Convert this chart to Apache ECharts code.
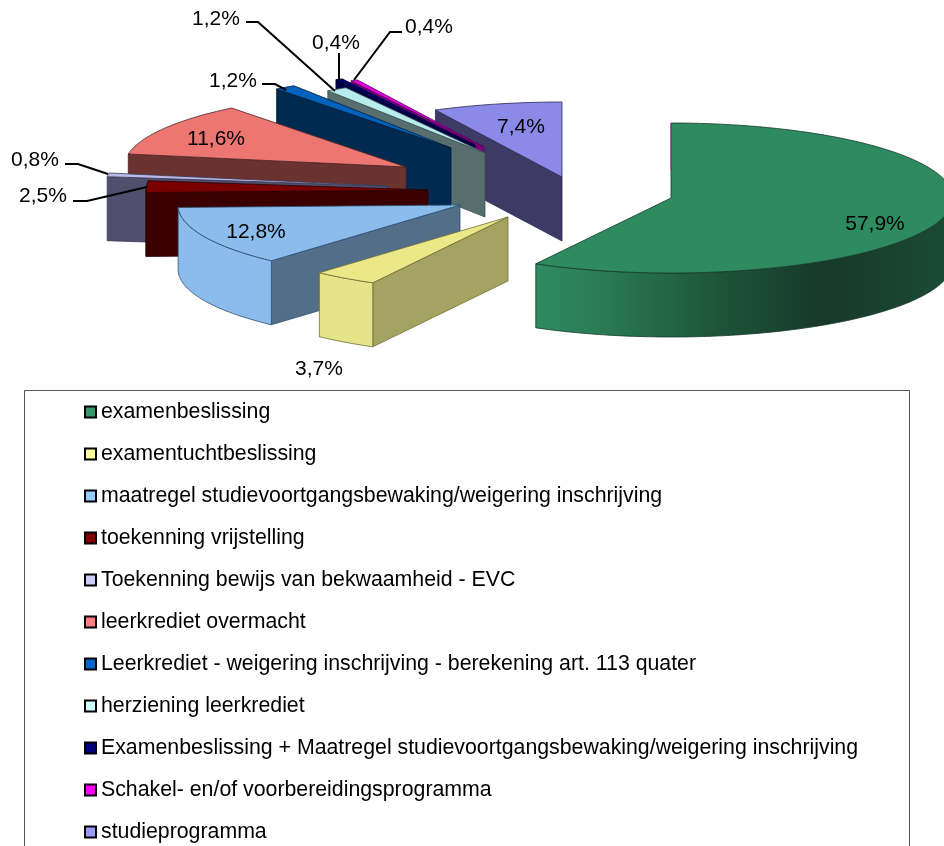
<!DOCTYPE html>
<html>
<head>
<meta charset="utf-8">
<title>Exploded pie</title>
<script src="https://cdn.jsdelivr.net/npm/echarts@6/dist/echarts.min.js"></script>
<style>
  html, body { margin: 0; padding: 0; background: #fff; }
  #chart { width: 944px; height: 846px; overflow: hidden; }
</style>
</head>
<body>
<div id="chart"></div>
<script>
// data, percentages as printed on the slices
const sliceNames = [
  'examenbeslissing',
  'examentuchtbeslissing',
  'maatregel studievoortgangsbewaking/weigering inschrijving',
  'toekenning vrijstelling',
  'Toekenning bewijs van bekwaamheid - EVC',
  'leerkrediet overmacht',
  'Leerkrediet - weigering inschrijving - berekening art. 113 quater',
  'herziening leerkrediet',
  'Examenbeslissing + Maatregel studievoortgangsbewaking/weigering inschrijving',
  'Schakel- en/of voorbereidingsprogramma',
  'studieprogramma'
]
const sliceValues = [57.9, 3.7, 12.8, 2.5, 0.8, 11.6, 1.2, 1.2, 0.4, 0.4, 7.4]

// colours
const legendColors = ['#339966', '#ffff99', '#99ccff', '#800000', '#ccccff', '#ff8080', '#0066cc', '#ccffff', '#000080', '#ff00ff', '#9999ff']
const topColors = ['#2e8b5f', '#ebe987', '#8bbcec', '#7a0000', '#b9b9e8', '#ee7672', '#0062bd', '#b8ecec', '#000066', '#e000e0', '#8c8ae8']
const wallColors = ['#1f5a3c', '#a5a362', '#526e88', '#3a0000', '#50506e', '#6b3330', '#012a50', '#566e6e', '#000044', '#7a007a', '#3d3a66']
const rimColors = ['#2e8b5f', '#e6e488', '#8bbcec', '#3a0000', '#50506e', '#6b3330', '#012a50', '#566e6e', '#000044', '#7a007a', '#3d3a66']
const edgeColors = ['#17392a', '#6f6d3a', '#2f4f70', '#2a0000', '#3a3a55', '#4a2522', '#001c38', '#3e5252', '#000033', '#5a005a', '#2a2850']

// pie layout
const centerX = 590
const centerY = 195
const radiusX = 282
const radiusY = 75
const depth = 64
// explode offset of each slice from the pie centre
const explode = [[81, 3], [-82, 22], [-130, 10], [-162, -5], [-203, -9], [-184, -28], [-139, -47], [-105, -42], [-115, -50], [-106, -48], [-28, -18]]

// percent labels and their leader lines
const labelPos = [[875, 224], [319, 369], [256, 232], [43, 196], [35, 160], [216, 139], [233, 81], [216, 19], [336, 43], [429, 27], [521, 127]]
const leaders = [null, null, null,
  [[73, 201], [87, 201], [147, 187]],
  [[65, 164], [78, 164], [108, 174]],
  null,
  [[262, 84], [275, 84], [286, 90]],
  [[246, 22], [258, 22], [335, 91]],
  [[339, 53], [339, 80]],
  [[402, 32], [390, 32], [354, 80]],
  null]

const total = sliceValues.reduce((a, b) => a + b, 0)
const startAngles = []
let running = 0
sliceValues.forEach((v) => {
  startAngles.push(running)
  running += v / total * 360
})

function pointAt(index, deg, drop) {
  const rad = deg * Math.PI / 180
  return [
    centerX + explode[index][0] + radiusX * Math.sin(rad),
    centerY + explode[index][1] - radiusY * Math.cos(rad) + drop
  ]
}

function arcPoints(index, from, to, drop) {
  const pts = []
  const n = Math.max(2, Math.ceil(Math.abs(to - from)))
  for (let i = 0; i <= n; i++) {
    pts.push(pointAt(index, from + (to - from) * i / n, drop))
  }
  return pts
}

function renderSlice(index) {
  const from = startAngles[index]
  const to = from + sliceValues[index] / total * 360
  const apex = [centerX + explode[index][0], centerY + explode[index][1]]
  const apexLow = [apex[0], apex[1] + depth]
  const children = []
  const edge = { stroke: edgeColors[index], lineWidth: 0.8, lineJoin: 'round' }

  // wall along the start edge, only seen on the left side
  if (from > 180) {
    const outer = pointAt(index, from, 0)
    const outerLow = pointAt(index, from, depth)
    children.push({
      type: 'polygon',
      shape: { points: [apex, outer, outerLow, apexLow] },
      style: { fill: wallColors[index], ...edge }
    })
  }

  // outer rim, only the front half of the ellipse
  const rimFrom = Math.max(from, 90)
  const rimTo = Math.min(to, 270)
  if (rimTo > rimFrom) {
    const rimPts = arcPoints(index, rimFrom, rimTo, 0).concat(arcPoints(index, rimTo, rimFrom, depth))
    let fill = rimColors[index]
    if (index === 0) {
      fill = new echarts.graphic.LinearGradient(537, 0, 944, 0, [
        { offset: 0, color: '#2e8b5f' },
        { offset: 0.15, color: '#2a7c55' },
        { offset: 0.4, color: '#1f5a3c' },
        { offset: 0.7, color: '#17392a' },
        { offset: 1, color: '#1a4a33' }
      ], true)
    }
    children.push({ type: 'polygon', shape: { points: rimPts }, style: { fill: fill, ...edge } })
  }

  // top face
  children.push({
    type: 'polygon',
    shape: { points: [apex].concat(arcPoints(index, from, to, 0)) },
    style: { fill: topColors[index], ...edge }
  })

  // the thin magenta seam on the big slice
  if (index === 0) {
    children.push({
      type: 'polyline',
      shape: { points: [[apex[0], apex[1] - radiusY], [apex[0], apex[1] - 28]] },
      style: { stroke: '#b0209a', lineWidth: 1, fill: null }
    })
  }
  return { type: 'group', children: children }
}

function renderLabel(params) {
  const i = params.dataIndex
  const children = []
  if (leaders[i]) {
    children.push({
      type: 'polyline',
      shape: { points: leaders[i] },
      style: { stroke: '#000', lineWidth: 2, fill: null }
    })
  }
  children.push({
    type: 'text',
    style: {
      text: sliceValues[i].toFixed(1).replace('.', ',') + '%',
      x: labelPos[i][0],
      y: labelPos[i][1],
      fill: '#000',
      fontSize: 21,
      fontFamily: '"Liberation Sans", Arial, sans-serif',
      align: 'center',
      verticalAlign: 'middle'
    }
  })
  return { type: 'group', children: children }
}

// painter's order: big slice, then from the back of the left side to the front
const drawOrder = [0, 10, 9, 8, 7, 6, 5, 4, 3, 2, 1]
const series = drawOrder.map((i) => ({
  type: 'custom',
  name: sliceNames[i],
  coordinateSystem: 'none',
  silent: true,
  itemStyle: { color: legendColors[i] },
  data: [sliceValues[i]],
  renderItem: () => renderSlice(i)
}))
series.push({
  type: 'custom',
  name: 'labels',
  coordinateSystem: 'none',
  silent: true,
  data: sliceValues,
  renderItem: renderLabel
})

const chart = echarts.init(document.getElementById('chart'), null, { renderer: 'canvas' })
chart.setOption({
  animation: false,
  backgroundColor: '#fff',
  legend: {
    orient: 'vertical',
    left: 84,
    top: 400,
    padding: 0,
    itemWidth: 11,
    itemHeight: 11,
    itemGap: 18,
    icon: 'rect',
    selectedMode: false,
    textStyle: {
      fontSize: 21.3,
      fontFamily: '"Liberation Sans", Arial, sans-serif',
      color: '#000',
      lineHeight: 24
    },
    data: sliceNames.map((name, i) => ({
      name: name,
      itemStyle: { color: legendColors[i], borderColor: '#000', borderWidth: 2 }
    }))
  },
  graphic: [{
    type: 'rect',
    silent: true,
    z: -1,
    shape: { x: 24.5, y: 390.5, width: 885, height: 500 },
    style: { fill: '#fff', stroke: '#555', lineWidth: 1 }
  }],
  series: series
})
</script>
</body>
</html>
